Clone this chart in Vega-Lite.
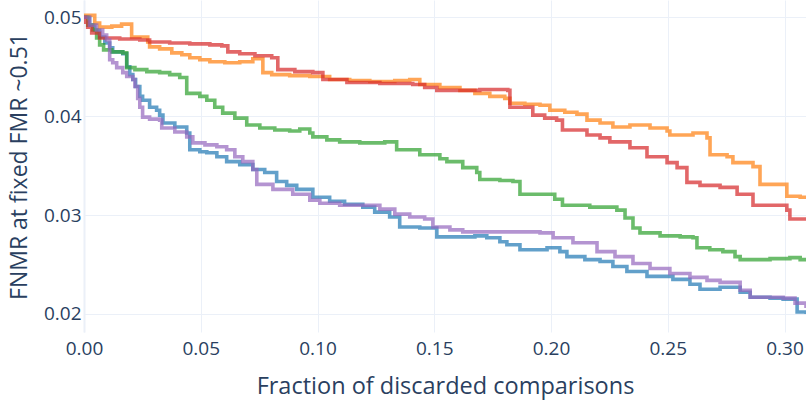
{
  "$schema": "https://vega.github.io/schema/vega-lite/v6.json",
  "autosize": "none",
  "width": 722,
  "height": 332,
  "padding": {"left": 84, "top": 0, "right": 0, "bottom": 71},
  "background": "#ffffff",
  "view": {"stroke": null},
  "config": {"font": "Open Sans"},
  "data": {
    "values": [
      {"s": "s1", "x": 0.0, "y": 0.05},
      {"s": "s1", "x": 0.0024, "y": 0.0492},
      {"s": "s1", "x": 0.0046, "y": 0.0487},
      {"s": "s1", "x": 0.0067, "y": 0.048},
      {"s": "s1", "x": 0.0089, "y": 0.0474},
      {"s": "s1", "x": 0.011, "y": 0.0469},
      {"s": "s1", "x": 0.0123, "y": 0.0465},
      {"s": "s1", "x": 0.0166, "y": 0.0463},
      {"s": "s1", "x": 0.0183, "y": 0.045},
      {"s": "s1", "x": 0.0196, "y": 0.0442},
      {"s": "s1", "x": 0.0209, "y": 0.0437},
      {"s": "s1", "x": 0.0221, "y": 0.043},
      {"s": "s1", "x": 0.0239, "y": 0.042},
      {"s": "s1", "x": 0.0251, "y": 0.0416},
      {"s": "s1", "x": 0.0281, "y": 0.0409},
      {"s": "s1", "x": 0.0311, "y": 0.0406},
      {"s": "s1", "x": 0.0324, "y": 0.0401},
      {"s": "s1", "x": 0.0338, "y": 0.0393},
      {"s": "s1", "x": 0.0389, "y": 0.0389},
      {"s": "s1", "x": 0.044, "y": 0.0383},
      {"s": "s1", "x": 0.0453, "y": 0.0366},
      {"s": "s1", "x": 0.0496, "y": 0.0364},
      {"s": "s1", "x": 0.0526, "y": 0.0363},
      {"s": "s1", "x": 0.0569, "y": 0.0359},
      {"s": "s1", "x": 0.0611, "y": 0.0354},
      {"s": "s1", "x": 0.0667, "y": 0.0351},
      {"s": "s1", "x": 0.0723, "y": 0.0346},
      {"s": "s1", "x": 0.0774, "y": 0.0343},
      {"s": "s1", "x": 0.0825, "y": 0.0334},
      {"s": "s1", "x": 0.0868, "y": 0.033},
      {"s": "s1", "x": 0.0911, "y": 0.0326},
      {"s": "s1", "x": 0.098, "y": 0.0318},
      {"s": "s1", "x": 0.1052, "y": 0.0314},
      {"s": "s1", "x": 0.1116, "y": 0.0311},
      {"s": "s1", "x": 0.1194, "y": 0.0308},
      {"s": "s1", "x": 0.1245, "y": 0.0303},
      {"s": "s1", "x": 0.1309, "y": 0.0298},
      {"s": "s1", "x": 0.1352, "y": 0.0288},
      {"s": "s1", "x": 0.1438, "y": 0.0287},
      {"s": "s1", "x": 0.1511, "y": 0.0278},
      {"s": "s1", "x": 0.161, "y": 0.0278},
      {"s": "s1", "x": 0.1674, "y": 0.0279},
      {"s": "s1", "x": 0.1725, "y": 0.0277},
      {"s": "s1", "x": 0.1781, "y": 0.0273},
      {"s": "s1", "x": 0.1811, "y": 0.027},
      {"s": "s1", "x": 0.1867, "y": 0.0265},
      {"s": "s1", "x": 0.1983, "y": 0.0267},
      {"s": "s1", "x": 0.2038, "y": 0.0263},
      {"s": "s1", "x": 0.2068, "y": 0.0258},
      {"s": "s1", "x": 0.2145, "y": 0.0255},
      {"s": "s1", "x": 0.221, "y": 0.0253},
      {"s": "s1", "x": 0.2265, "y": 0.0248},
      {"s": "s1", "x": 0.2325, "y": 0.0243},
      {"s": "s1", "x": 0.2411, "y": 0.0238},
      {"s": "s1", "x": 0.2522, "y": 0.0235},
      {"s": "s1", "x": 0.2595, "y": 0.023},
      {"s": "s1", "x": 0.2638, "y": 0.0225},
      {"s": "s1", "x": 0.2724, "y": 0.0227},
      {"s": "s1", "x": 0.281, "y": 0.0222},
      {"s": "s1", "x": 0.2853, "y": 0.0217},
      {"s": "s1", "x": 0.2938, "y": 0.0216},
      {"s": "s1", "x": 0.2994, "y": 0.0215},
      {"s": "s1", "x": 0.3054, "y": 0.0202},
      {"s": "s1", "x": 0.3092, "y": 0.02},

      {"s": "s2", "x": 0.0, "y": 0.05},
      {"s": "s2", "x": 0.0007, "y": 0.0502},
      {"s": "s2", "x": 0.0046, "y": 0.0494},
      {"s": "s2", "x": 0.0067, "y": 0.049},
      {"s": "s2", "x": 0.0119, "y": 0.0491},
      {"s": "s2", "x": 0.0161, "y": 0.0493},
      {"s": "s2", "x": 0.0204, "y": 0.048},
      {"s": "s2", "x": 0.0273, "y": 0.0475},
      {"s": "s2", "x": 0.0281, "y": 0.047},
      {"s": "s2", "x": 0.0324, "y": 0.0468},
      {"s": "s2", "x": 0.0376, "y": 0.0464},
      {"s": "s2", "x": 0.0419, "y": 0.0462},
      {"s": "s2", "x": 0.0453, "y": 0.0459},
      {"s": "s2", "x": 0.0496, "y": 0.0457},
      {"s": "s2", "x": 0.0539, "y": 0.0455},
      {"s": "s2", "x": 0.0603, "y": 0.0454},
      {"s": "s2", "x": 0.0667, "y": 0.0455},
      {"s": "s2", "x": 0.0723, "y": 0.0458},
      {"s": "s2", "x": 0.0766, "y": 0.0444},
      {"s": "s2", "x": 0.0804, "y": 0.0442},
      {"s": "s2", "x": 0.0881, "y": 0.0441},
      {"s": "s2", "x": 0.0967, "y": 0.044},
      {"s": "s2", "x": 0.1052, "y": 0.0437},
      {"s": "s2", "x": 0.1138, "y": 0.0436},
      {"s": "s2", "x": 0.1224, "y": 0.0435},
      {"s": "s2", "x": 0.1331, "y": 0.0436},
      {"s": "s2", "x": 0.1395, "y": 0.0437},
      {"s": "s2", "x": 0.1438, "y": 0.0432},
      {"s": "s2", "x": 0.1524, "y": 0.0429},
      {"s": "s2", "x": 0.161, "y": 0.0426},
      {"s": "s2", "x": 0.1674, "y": 0.0423},
      {"s": "s2", "x": 0.1738, "y": 0.042},
      {"s": "s2", "x": 0.1802, "y": 0.0418},
      {"s": "s2", "x": 0.1824, "y": 0.0413},
      {"s": "s2", "x": 0.1888, "y": 0.0412},
      {"s": "s2", "x": 0.1953, "y": 0.0411},
      {"s": "s2", "x": 0.1995, "y": 0.0406},
      {"s": "s2", "x": 0.2059, "y": 0.0404},
      {"s": "s2", "x": 0.2111, "y": 0.0402},
      {"s": "s2", "x": 0.2154, "y": 0.0396},
      {"s": "s2", "x": 0.221, "y": 0.0393},
      {"s": "s2", "x": 0.2265, "y": 0.0389},
      {"s": "s2", "x": 0.2338, "y": 0.0391},
      {"s": "s2", "x": 0.2424, "y": 0.0388},
      {"s": "s2", "x": 0.2497, "y": 0.0385},
      {"s": "s2", "x": 0.2509, "y": 0.0381},
      {"s": "s2", "x": 0.2608, "y": 0.0383},
      {"s": "s2", "x": 0.2668, "y": 0.0378},
      {"s": "s2", "x": 0.2681, "y": 0.0361},
      {"s": "s2", "x": 0.2754, "y": 0.0359},
      {"s": "s2", "x": 0.2779, "y": 0.0353},
      {"s": "s2", "x": 0.2865, "y": 0.0349},
      {"s": "s2", "x": 0.2895, "y": 0.0331},
      {"s": "s2", "x": 0.301, "y": 0.0319},
      {"s": "s2", "x": 0.3067, "y": 0.0318},
      {"s": "s2", "x": 0.3092, "y": 0.0317},

      {"s": "s3", "x": 0.0, "y": 0.05},
      {"s": "s3", "x": 0.0016, "y": 0.0492},
      {"s": "s3", "x": 0.0037, "y": 0.0487},
      {"s": "s3", "x": 0.0054, "y": 0.0479},
      {"s": "s3", "x": 0.0067, "y": 0.0472},
      {"s": "s3", "x": 0.0084, "y": 0.0467},
      {"s": "s3", "x": 0.0119, "y": 0.0465},
      {"s": "s3", "x": 0.0166, "y": 0.0464},
      {"s": "s3", "x": 0.0183, "y": 0.0449},
      {"s": "s3", "x": 0.0218, "y": 0.0447},
      {"s": "s3", "x": 0.0269, "y": 0.0445},
      {"s": "s3", "x": 0.0324, "y": 0.0444},
      {"s": "s3", "x": 0.0367, "y": 0.0442},
      {"s": "s3", "x": 0.041, "y": 0.0439},
      {"s": "s3", "x": 0.044, "y": 0.0423},
      {"s": "s3", "x": 0.0496, "y": 0.042},
      {"s": "s3", "x": 0.0526, "y": 0.0416},
      {"s": "s3", "x": 0.056, "y": 0.0409},
      {"s": "s3", "x": 0.0594, "y": 0.0403},
      {"s": "s3", "x": 0.0646, "y": 0.0398},
      {"s": "s3", "x": 0.0697, "y": 0.0391},
      {"s": "s3", "x": 0.0753, "y": 0.0388},
      {"s": "s3", "x": 0.0817, "y": 0.0386},
      {"s": "s3", "x": 0.0881, "y": 0.0385},
      {"s": "s3", "x": 0.0924, "y": 0.0387},
      {"s": "s3", "x": 0.0967, "y": 0.0383},
      {"s": "s3", "x": 0.098, "y": 0.0379},
      {"s": "s3", "x": 0.104, "y": 0.0376},
      {"s": "s3", "x": 0.1095, "y": 0.0374},
      {"s": "s3", "x": 0.1181, "y": 0.0373},
      {"s": "s3", "x": 0.1288, "y": 0.0374},
      {"s": "s3", "x": 0.1339, "y": 0.0366},
      {"s": "s3", "x": 0.1438, "y": 0.0361},
      {"s": "s3", "x": 0.1524, "y": 0.0357},
      {"s": "s3", "x": 0.1554, "y": 0.0354},
      {"s": "s3", "x": 0.1622, "y": 0.0348},
      {"s": "s3", "x": 0.1682, "y": 0.0343},
      {"s": "s3", "x": 0.1695, "y": 0.0336},
      {"s": "s3", "x": 0.1781, "y": 0.0335},
      {"s": "s3", "x": 0.1837, "y": 0.0334},
      {"s": "s3", "x": 0.1867, "y": 0.0321},
      {"s": "s3", "x": 0.1965, "y": 0.0321},
      {"s": "s3", "x": 0.2016, "y": 0.0316},
      {"s": "s3", "x": 0.2049, "y": 0.031},
      {"s": "s3", "x": 0.2166, "y": 0.0308},
      {"s": "s3", "x": 0.2282, "y": 0.0305},
      {"s": "s3", "x": 0.2317, "y": 0.0297},
      {"s": "s3", "x": 0.2351, "y": 0.0287},
      {"s": "s3", "x": 0.2381, "y": 0.0282},
      {"s": "s3", "x": 0.2467, "y": 0.0279},
      {"s": "s3", "x": 0.2553, "y": 0.0278},
      {"s": "s3", "x": 0.2608, "y": 0.0277},
      {"s": "s3", "x": 0.2625, "y": 0.0267},
      {"s": "s3", "x": 0.268, "y": 0.0265},
      {"s": "s3", "x": 0.2736, "y": 0.0263},
      {"s": "s3", "x": 0.2788, "y": 0.0258},
      {"s": "s3", "x": 0.281, "y": 0.0255},
      {"s": "s3", "x": 0.2938, "y": 0.0256},
      {"s": "s3", "x": 0.3023, "y": 0.0257},
      {"s": "s3", "x": 0.3067, "y": 0.0255},
      {"s": "s3", "x": 0.3092, "y": 0.0255},

      {"s": "s4", "x": 0.0, "y": 0.05},
      {"s": "s4", "x": 0.0007, "y": 0.0495},
      {"s": "s4", "x": 0.0016, "y": 0.049},
      {"s": "s4", "x": 0.0033, "y": 0.0484},
      {"s": "s4", "x": 0.0067, "y": 0.0479},
      {"s": "s4", "x": 0.0153, "y": 0.0478},
      {"s": "s4", "x": 0.0239, "y": 0.0477},
      {"s": "s4", "x": 0.0281, "y": 0.0475},
      {"s": "s4", "x": 0.0367, "y": 0.0474},
      {"s": "s4", "x": 0.0453, "y": 0.0473},
      {"s": "s4", "x": 0.0539, "y": 0.0472},
      {"s": "s4", "x": 0.059, "y": 0.0471},
      {"s": "s4", "x": 0.0616, "y": 0.0465},
      {"s": "s4", "x": 0.0667, "y": 0.0463},
      {"s": "s4", "x": 0.0732, "y": 0.0461},
      {"s": "s4", "x": 0.0804, "y": 0.0459},
      {"s": "s4", "x": 0.083, "y": 0.0447},
      {"s": "s4", "x": 0.0903, "y": 0.0445},
      {"s": "s4", "x": 0.098, "y": 0.0444},
      {"s": "s4", "x": 0.1023, "y": 0.0437},
      {"s": "s4", "x": 0.1126, "y": 0.0434},
      {"s": "s4", "x": 0.1267, "y": 0.0433},
      {"s": "s4", "x": 0.1408, "y": 0.0432},
      {"s": "s4", "x": 0.1459, "y": 0.0429},
      {"s": "s4", "x": 0.1511, "y": 0.0426},
      {"s": "s4", "x": 0.1622, "y": 0.0426},
      {"s": "s4", "x": 0.1695, "y": 0.0427},
      {"s": "s4", "x": 0.1815, "y": 0.0426},
      {"s": "s4", "x": 0.1824, "y": 0.0409},
      {"s": "s4", "x": 0.1922, "y": 0.0401},
      {"s": "s4", "x": 0.1973, "y": 0.0398},
      {"s": "s4", "x": 0.2024, "y": 0.0396},
      {"s": "s4", "x": 0.2049, "y": 0.0386},
      {"s": "s4", "x": 0.2154, "y": 0.0381},
      {"s": "s4", "x": 0.221, "y": 0.0378},
      {"s": "s4", "x": 0.2252, "y": 0.0374},
      {"s": "s4", "x": 0.2338, "y": 0.0368},
      {"s": "s4", "x": 0.2411, "y": 0.0359},
      {"s": "s4", "x": 0.2497, "y": 0.0353},
      {"s": "s4", "x": 0.254, "y": 0.0348},
      {"s": "s4", "x": 0.2582, "y": 0.0333},
      {"s": "s4", "x": 0.2638, "y": 0.033},
      {"s": "s4", "x": 0.2724, "y": 0.0328},
      {"s": "s4", "x": 0.2797, "y": 0.0321},
      {"s": "s4", "x": 0.2865, "y": 0.031},
      {"s": "s4", "x": 0.301, "y": 0.0305},
      {"s": "s4", "x": 0.3023, "y": 0.0296},
      {"s": "s4", "x": 0.3092, "y": 0.0295},

      {"s": "s5", "x": 0.0, "y": 0.05},
      {"s": "s5", "x": 0.0024, "y": 0.0492},
      {"s": "s5", "x": 0.0054, "y": 0.0487},
      {"s": "s5", "x": 0.008, "y": 0.0482},
      {"s": "s5", "x": 0.0097, "y": 0.0477},
      {"s": "s5", "x": 0.011, "y": 0.0457},
      {"s": "s5", "x": 0.0123, "y": 0.0454},
      {"s": "s5", "x": 0.014, "y": 0.0449},
      {"s": "s5", "x": 0.0166, "y": 0.0444},
      {"s": "s5", "x": 0.0183, "y": 0.044},
      {"s": "s5", "x": 0.0209, "y": 0.0437},
      {"s": "s5", "x": 0.0218, "y": 0.043},
      {"s": "s5", "x": 0.023, "y": 0.0418},
      {"s": "s5", "x": 0.0239, "y": 0.0409},
      {"s": "s5", "x": 0.0251, "y": 0.0399},
      {"s": "s5", "x": 0.0281, "y": 0.0397},
      {"s": "s5", "x": 0.0324, "y": 0.0396},
      {"s": "s5", "x": 0.0333, "y": 0.0388},
      {"s": "s5", "x": 0.0389, "y": 0.0384},
      {"s": "s5", "x": 0.044, "y": 0.0379},
      {"s": "s5", "x": 0.0466, "y": 0.0373},
      {"s": "s5", "x": 0.0518, "y": 0.0371},
      {"s": "s5", "x": 0.0569, "y": 0.0369},
      {"s": "s5", "x": 0.0611, "y": 0.0366},
      {"s": "s5", "x": 0.0646, "y": 0.0359},
      {"s": "s5", "x": 0.068, "y": 0.0354},
      {"s": "s5", "x": 0.0723, "y": 0.0346},
      {"s": "s5", "x": 0.074, "y": 0.0331},
      {"s": "s5", "x": 0.0809, "y": 0.0326},
      {"s": "s5", "x": 0.0894, "y": 0.0321},
      {"s": "s5", "x": 0.0967, "y": 0.0315},
      {"s": "s5", "x": 0.101, "y": 0.0312},
      {"s": "s5", "x": 0.1095, "y": 0.031},
      {"s": "s5", "x": 0.1194, "y": 0.031},
      {"s": "s5", "x": 0.1267, "y": 0.0306},
      {"s": "s5", "x": 0.1331, "y": 0.0301},
      {"s": "s5", "x": 0.1395, "y": 0.0298},
      {"s": "s5", "x": 0.1459, "y": 0.0296},
      {"s": "s5", "x": 0.1494, "y": 0.0288},
      {"s": "s5", "x": 0.1567, "y": 0.0285},
      {"s": "s5", "x": 0.1622, "y": 0.0283},
      {"s": "s5", "x": 0.1781, "y": 0.0283},
      {"s": "s5", "x": 0.1953, "y": 0.0282},
      {"s": "s5", "x": 0.2009, "y": 0.0277},
      {"s": "s5", "x": 0.2094, "y": 0.0272},
      {"s": "s5", "x": 0.2197, "y": 0.0263},
      {"s": "s5", "x": 0.2274, "y": 0.0258},
      {"s": "s5", "x": 0.2351, "y": 0.0251},
      {"s": "s5", "x": 0.2424, "y": 0.0246},
      {"s": "s5", "x": 0.2509, "y": 0.0241},
      {"s": "s5", "x": 0.2595, "y": 0.0237},
      {"s": "s5", "x": 0.2668, "y": 0.0234},
      {"s": "s5", "x": 0.2724, "y": 0.0232},
      {"s": "s5", "x": 0.281, "y": 0.0224},
      {"s": "s5", "x": 0.2853, "y": 0.0217},
      {"s": "s5", "x": 0.2994, "y": 0.0216},
      {"s": "s5", "x": 0.3045, "y": 0.0211},
      {"s": "s5", "x": 0.3092, "y": 0.0206}
    ]
  },
  "mark": {"type": "line", "interpolate": "step-after", "strokeWidth": 3.6, "opacity": 0.7, "clip": true},
  "encoding": {
    "x": {
      "field": "x",
      "type": "quantitative",
      "scale": {"domain": [0, 0.3092], "nice": false, "zero": false},
      "axis": {
        "title": "Fraction of discarded comparisons",
        "values": [0, 0.05, 0.1, 0.15, 0.2, 0.25, 0.3],
        "format": ".2f",
        "grid": true,
        "gridColor": "#ebf0f8",
        "domain": false,
        "ticks": false,
        "labelFont": "Open Sans",
        "labelFontSize": 19,
        "labelColor": "#2a3f5f",
        "labelPadding": 7,
        "labelFlush": false,
        "titleFont": "Open Sans",
        "titleFontSize": 23.5,
        "titleFontWeight": "normal",
        "titleColor": "#2a3f5f",
        "titlePadding": 16
      }
    },
    "y": {
      "field": "y",
      "type": "quantitative",
      "scale": {"domain": [0.01818, 0.05174], "nice": false, "zero": false},
      "axis": {
        "title": "FNMR at fixed FMR ~0.51",
        "values": [0.02, 0.03, 0.04, 0.05],
        "format": ".2f",
        "grid": true,
        "gridColor": "#ebf0f8",
        "domain": true,
        "domainColor": "#ebf0f8",
        "domainWidth": 2,
        "ticks": false,
        "labelFont": "Open Sans",
        "labelFontSize": 19,
        "labelColor": "#2a3f5f",
        "labelPadding": 3,
        "labelFlush": false,
        "titleFont": "Open Sans",
        "titleFontSize": 23,
        "titleFontWeight": "normal",
        "titleColor": "#2a3f5f",
        "titlePadding": 12
      }
    },
    "color": {
      "field": "s",
      "type": "nominal",
      "scale": {
        "domain": ["s1", "s2", "s3", "s4", "s5"],
        "range": ["#1f77b4", "#ff7f0e", "#2ca02c", "#d62728", "#9467bd"]
      },
      "legend": null
    },
    "order": {"field": "x", "type": "quantitative"}
  }
}
